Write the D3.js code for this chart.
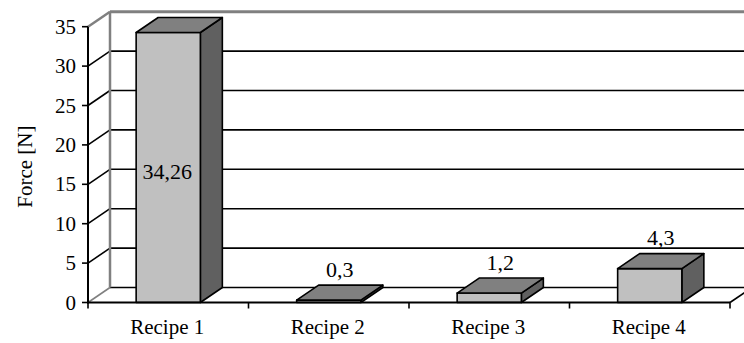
<!DOCTYPE html>
<html>
<head>
<meta charset="utf-8">
<script src="https://cdn.jsdelivr.net/npm/d3@7"></script>
<style>
  html, body { margin: 0; padding: 0; background: #fff; }
  svg { display: block; }
  text { font-family: "Liberation Serif", "Times New Roman", serif; fill: #000; }
</style>
</head>
<body>
<svg id="chart" width="744" height="343"></svg>
<script>
const categories = ["Recipe 1", "Recipe 2", "Recipe 3", "Recipe 4"];
const values = [34.26, 0.3, 1.2, 4.3];
const valueLabels = ["34,26", "0,3", "1,2", "4,3"];
const yTicks = [0, 5, 10, 15, 20, 25, 30, 35];
const yTitle = "Force [N]";

(function () {
const W = 744, H = 343;
const pLeft = 88, pRight = 730, pBottom = 302.5, pTop = 26.7;
const DX = 22, DY = -15;           // 3D depth offset
const fontSize = 21;

const svg = d3.select("#chart");

const x = d3.scaleBand().domain(categories).range([pLeft, pRight])
  .paddingInner(0.6).paddingOuter(0.3);
const y = d3.scaleLinear().domain([0, 35]).range([pBottom, pTop]);

const wallGray = "#808080";

// Left side wall diagonals + back wall gridlines
const grid = svg.append("g");
yTicks.forEach(v => {
  const yy = y(v);
  const isTop = v === 35;
  const isZero = v === 0;
  grid.append("line")
    .attr("x1", pLeft).attr("y1", yy).attr("x2", pLeft + DX).attr("y2", yy + DY)
    .attr("stroke", (isTop || isZero) ? wallGray : "#000")
    .attr("stroke-width", isTop ? 2.5 : 1.6);
  grid.append("line")
    .attr("x1", pLeft + DX).attr("y1", yy + DY).attr("x2", W + 20).attr("y2", yy + DY)
    .attr("stroke", isTop ? wallGray : "#000")
    .attr("stroke-width", isTop ? 3 : 1.6);
});
// Back wall left edge
grid.append("line")
  .attr("x1", pLeft + DX).attr("y1", y(35) + DY)
  .attr("x2", pLeft + DX).attr("y2", y(0) + DY)
  .attr("stroke", wallGray).attr("stroke-width", 2.5);
// Floor right edge
grid.append("line")
  .attr("x1", pRight).attr("y1", y(0))
  .attr("x2", pRight + DX).attr("y2", y(0) + DY)
  .attr("stroke", "#000").attr("stroke-width", 1.6);

// Bars
const bars = svg.append("g");
const bw = x.bandwidth();
categories.forEach((c, i) => {
  const x0 = x(c), x1 = x0 + bw;
  const yt = y(values[i]), yb = y(0);
  const g = bars.append("g").attr("stroke", "#000").attr("stroke-width", 1.6)
    .attr("stroke-linejoin", "round");
  g.append("path").attr("fill", "#606060")
    .attr("d", `M${x1},${yb} L${x1 + DX},${yb + DY} L${x1 + DX},${yt + DY} L${x1},${yt} Z`);
  g.append("path").attr("fill", "#c0c0c0")
    .attr("d", `M${x0},${yb} L${x1},${yb} L${x1},${yt} L${x0},${yt} Z`);
  g.append("path").attr("fill", "#808080")
    .attr("d", `M${x0},${yt} L${x1},${yt} L${x1 + DX},${yt + DY} L${x0 + DX},${yt + DY} Z`);
});

// Axes (front edges)
const axes = svg.append("g").attr("stroke", "#000").attr("stroke-width", 2);
axes.append("line").attr("x1", pLeft).attr("y1", y(35)).attr("x2", pLeft).attr("y2", y(0) + 1);
axes.append("line").attr("x1", pLeft - 1).attr("y1", y(0)).attr("x2", pRight).attr("y2", y(0));
yTicks.forEach(v => {
  axes.append("line").attr("x1", pLeft - 6).attr("x2", pLeft)
    .attr("y1", y(v)).attr("y2", y(v)).attr("stroke-width", 1.6);
});
const xTickPos = [pLeft].concat(categories.map(c => x(c) - x.step() * x.paddingInner() / 2 + x.step()));
xTickPos.forEach(px => {
  axes.append("line").attr("x1", px).attr("x2", px)
    .attr("y1", y(0)).attr("y2", y(0) + 6).attr("stroke-width", 1.6);
});

// Y tick labels
svg.append("g").selectAll("text").data(yTicks).join("text")
  .attr("x", pLeft - 12).attr("y", d => y(d))
  .attr("text-anchor", "end").attr("dominant-baseline", "central")
  .attr("font-size", fontSize)
  .text(d => d);

// X category labels
svg.append("g").selectAll("text").data(categories).join("text")
  .attr("x", d => x(d) + bw / 2 - 1).attr("y", 334)
  .attr("text-anchor", "middle")
  .attr("font-size", fontSize)
  .text(d => d);

// Y axis title
svg.append("text")
  .attr("transform", `translate(32,${(y(0) + y(35)) / 2 + 2}) rotate(-90)`)
  .attr("text-anchor", "middle")
  .attr("font-size", fontSize)
  .text(yTitle);

// Value labels
categories.forEach((c, i) => {
  const inside = values[i] > 20;
  const t = svg.append("text")
    .attr("text-anchor", "middle")
    .attr("dominant-baseline", "central")
    .attr("font-size", fontSize + 1)
    .text(valueLabels[i]);
  if (inside) {
    t.attr("x", x(c) + bw / 2 - 1).attr("y", (y(values[i]) + y(0)) / 2 + 4);
  } else {
    t.attr("x", x(c) + bw / 2 + DX / 2).attr("y", y(values[i]) + DY - 16);
  }
});
})();
</script>
</body>
</html>
